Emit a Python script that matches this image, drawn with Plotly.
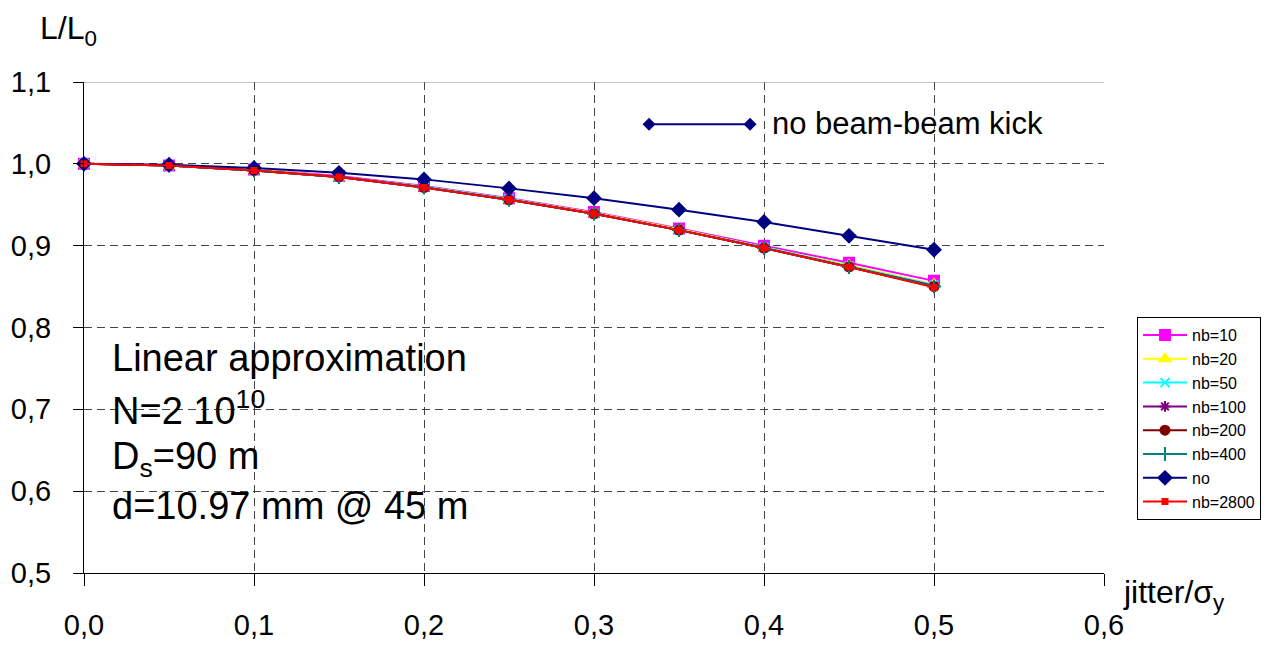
import plotly.graph_objects as go

# jitter / sigma_y
jitter = [0.0, 0.05, 0.1, 0.15, 0.2, 0.25, 0.3, 0.35, 0.4, 0.45, 0.5]

# L/L0 for each number of bunches
nb10 = [1.000, 0.998, 0.993, 0.985, 0.973, 0.958, 0.941, 0.921, 0.900, 0.879, 0.857]
nb20 = [1.000, 0.998, 0.993, 0.984, 0.972, 0.957, 0.940, 0.920, 0.898, 0.876, 0.853]
nb50 = [1.000, 0.998, 0.992, 0.984, 0.972, 0.957, 0.939, 0.919, 0.898, 0.875, 0.852]
nb100 = [1.000, 0.998, 0.992, 0.984, 0.971, 0.956, 0.939, 0.919, 0.897, 0.874, 0.851]
nb200 = [1.000, 0.998, 0.992, 0.984, 0.971, 0.956, 0.939, 0.919, 0.897, 0.874, 0.850]
nb400 = [1.000, 0.998, 0.992, 0.984, 0.971, 0.956, 0.939, 0.919, 0.897, 0.874, 0.850]
no_kick = [1.000, 0.999, 0.995, 0.989, 0.981, 0.970, 0.958, 0.944, 0.929, 0.912, 0.895]
nb2800 = [1.000, 0.998, 0.992, 0.984, 0.971, 0.956, 0.939, 0.919, 0.897, 0.874, 0.849]

FONT = "Liberation Sans, Arial, sans-serif"

series = [
    ("nb=10", nb10, "#ff00ff", "square", 10),
    ("nb=20", nb20, "#ffff00", "triangle-up", 10),
    ("nb=50", nb50, "#00ffff", "x-thin-open", 9),
    ("nb=100", nb100, "#800080", "asterisk-open", 9),
    ("nb=200", nb200, "#800000", "circle", 9),
    ("nb=400", nb400, "#008080", "cross-thin-open", 10),
    ("no", no_kick, "#000080", "diamond", 10),
    ("nb=2800", nb2800, "#ff0000", "square", 5),
]

fig = go.Figure()
for name, vals, col, sym, sz in series:
    fig.add_trace(go.Scatter(
        x=jitter, y=vals, name=name, mode="lines+markers",
        line=dict(color=col, width=2),
        marker=dict(symbol=sym, size=sz, color=col, line=dict(color=col, width=2)),
        cliponaxis=False,
    ))

# key for the "no beam-beam kick" curve, drawn on a hidden helper axis
fig.add_trace(go.Scatter(
    x=[0, 1], y=[0, 0], xaxis="x2", yaxis="y2", mode="lines+markers",
    line=dict(color="#000080", width=2),
    marker=dict(symbol="diamond", size=10, color="#000080"),
    showlegend=False, hoverinfo="skip", cliponaxis=False,
))

grid = dict(showgrid=True, gridcolor="#444444", griddash="8px,5px", gridwidth=1)

# the page body adds an 8px offset, so the figure is 8px smaller on each side
fig.update_layout(
    width=1262, height=640,
    margin=dict(l=76, r=166, t=74, b=75, autoexpand=False),
    paper_bgcolor="white", plot_bgcolor="white",
    separators=", ",
    font=dict(family=FONT, color="black", size=29),
    xaxis=dict(range=[0, 0.6], dtick=0.1, tickformat=".1f", showline=True,
               linecolor="black", linewidth=1, ticks="outside", ticklen=12,
               tickcolor="black", ticklabelstandoff=14, zeroline=False,
               automargin=False, tickfont=dict(size=29), **grid),
    yaxis=dict(range=[0.5, 1.1], dtick=0.1, tickformat=".1f", showline=True,
               linecolor="black", linewidth=1, ticks="outside", ticklen=10,
               tickcolor="black", ticklabelstandoff=16, zeroline=False,
               automargin=False, tickfont=dict(size=29), **grid),
    xaxis2=dict(domain=[0.554, 0.653], range=[0, 1], visible=False,
                anchor="y2", fixedrange=True),
    yaxis2=dict(domain=[0.884, 0.944], range=[-1, 1], visible=False,
                anchor="x2", fixedrange=True),
    legend=dict(xref="container", yref="container", x=0.8946, y=0.517,
                xanchor="left", yanchor="top",
                bordercolor="black", borderwidth=1, bgcolor="white",
                font=dict(family=FONT, size=16, color="black"),
                tracegroupgap=0, itemwidth=44),
    showlegend=True,
)

# solid top frame line at 1,1
fig.add_shape(type="line", xref="paper", yref="y", x0=0, x1=1, y0=1.1, y1=1.1,
              line=dict(color="#888888", width=1))


def yp(px):
    return (573 - px) / 491


def xp(px):
    return (px - 84) / 1020


notes = [
    ("L/L<sub>0</sub>", xp(38), yp(8), 32, "top"),
    ("jitter/σ<sub>y</sub>", xp(1121), yp(594), 32, "middle"),
    ("no beam-beam kick", xp(770), yp(123), 31, "middle"),
    ("Linear approximation", xp(110), yp(358), 38, "middle"),
    ("N=2 10<sup>10</sup>", xp(110), yp(408), 38, "middle"),
    ("D<sub>s</sub>=90 m", xp(110), yp(459), 38, "middle"),
    ("d=10.97 mm @ 45 m", xp(110), yp(506), 38, "middle"),
]
for txt, x, y, sz, ya in notes:
    fig.add_annotation(text=txt, xref="paper", yref="paper", x=x, y=y,
                       xanchor="left", yanchor=ya, showarrow=False,
                       font=dict(family=FONT, size=sz, color="black"))

fig.write_html("out.html")
